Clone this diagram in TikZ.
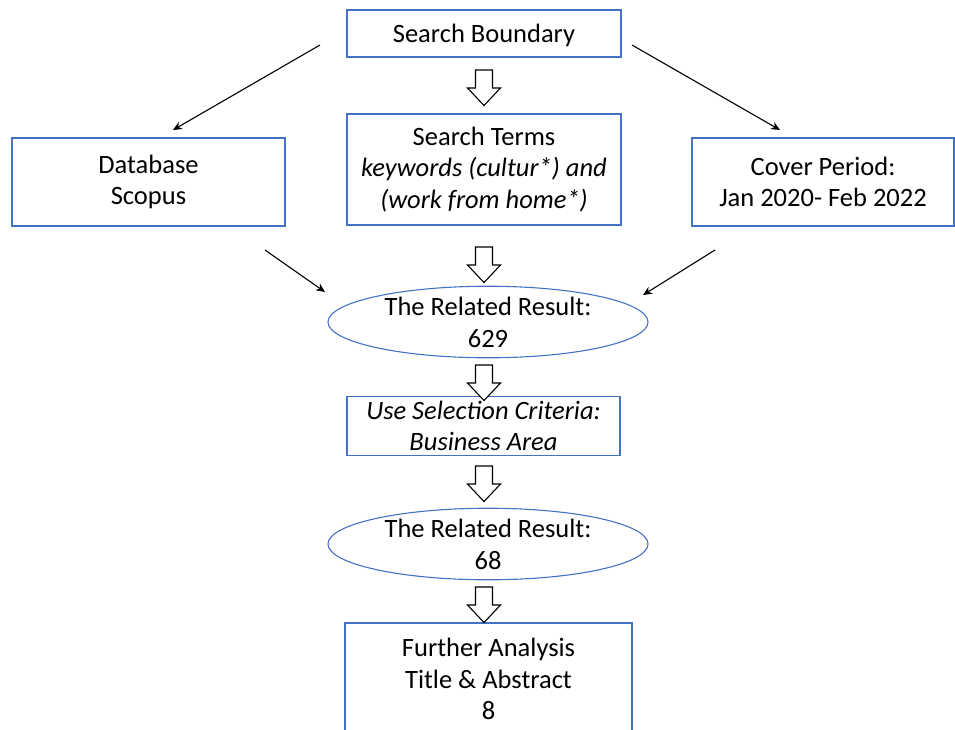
\documentclass[tikz,border=0pt]{standalone}
\usepackage{fontspec}
\setmainfont{Carlito}
\usetikzlibrary{arrows.meta,shapes.geometric}
\definecolor{boxblue}{HTML}{4472C4}
\tikzset{
  boxnode/.style={draw=boxblue,line width=1.2pt,rectangle,inner sep=0pt,align=center,font=\fontsize{26.5}{31.5}\selectfont},
  ellnode/.style={draw=boxblue,line width=1.1pt,ellipse,inner sep=0pt,align=center,font=\fontsize{26.5}{32}\selectfont},
  thinarrow/.style={line width=1.1pt,-{Stealth[length=9pt,width=8pt]}},
  barrow/.pic={\draw[line width=1.1pt,fill=white] (-8.5,0) -- (8.5,0) -- (8.5,18) -- (16.5,18) -- (0,35.5) -- (-16.5,18) -- (-8.5,18) -- cycle;}
}
\begin{document}
\begin{tikzpicture}[x=1pt,y=-1pt]
\clip (0,0) rectangle (955,729);
\fill[white] (0,0) rectangle (955,729);
\node[boxnode,minimum width=274pt,minimum height=47pt,text depth=0pt] (sb) at (484,33.5) {Search Boundary};
\node[boxnode,minimum width=274pt,minimum height=111pt] (st) at (484,169.5) {Search Terms\\\itshape keywords (cultur*) and\\\itshape (work from home*)};
\node[boxnode,minimum width=273pt,minimum height=88pt] (db) at (148.5,182) {Database\\Scopus};
\node[boxnode,minimum width=262pt,minimum height=88pt] (cp) at (823,182) {Cover Period:\\Jan 2020- Feb 2022};
\node[ellnode,minimum width=320pt,minimum height=68pt] (e1) at (488,322) {The Related Result:\\629};
\node[boxnode,minimum width=273pt,minimum height=59pt] (us) at (483.5,426) {\itshape Use Selection Criteria:\\\itshape Business Area};
\node[ellnode,minimum width=320pt,minimum height=68pt] (e2) at (488,544) {The Related Result:\\68};
\node[boxnode,minimum width=287pt,minimum height=112pt] (fa) at (488.5,679) {Further Analysis\\Title \& Abstract\\8};
% thin arrows
\coordinate (sbL) at (320,45);
\coordinate (dbT) at (173,130);
\coordinate (sbR) at (632,45);
\coordinate (cpT) at (780,130);
\coordinate (dbB) at (265,250);
\coordinate (e1L) at (325,292);
\coordinate (cpB) at (715,250);
\coordinate (e1R) at (643,295);
\draw[thinarrow] (sbL) -- (dbT);
\draw[thinarrow] (sbR) -- (cpT);
\draw[thinarrow] (dbB) -- (e1L);
\draw[thinarrow] (cpB) -- (e1R);
% block arrows
\pic at (484,70) {barrow};
\pic at (484,247) {barrow};
\pic at (484,365) {barrow};
\pic at (484,466) {barrow};
\pic at (484,587) {barrow};
\end{tikzpicture}
\end{document}
